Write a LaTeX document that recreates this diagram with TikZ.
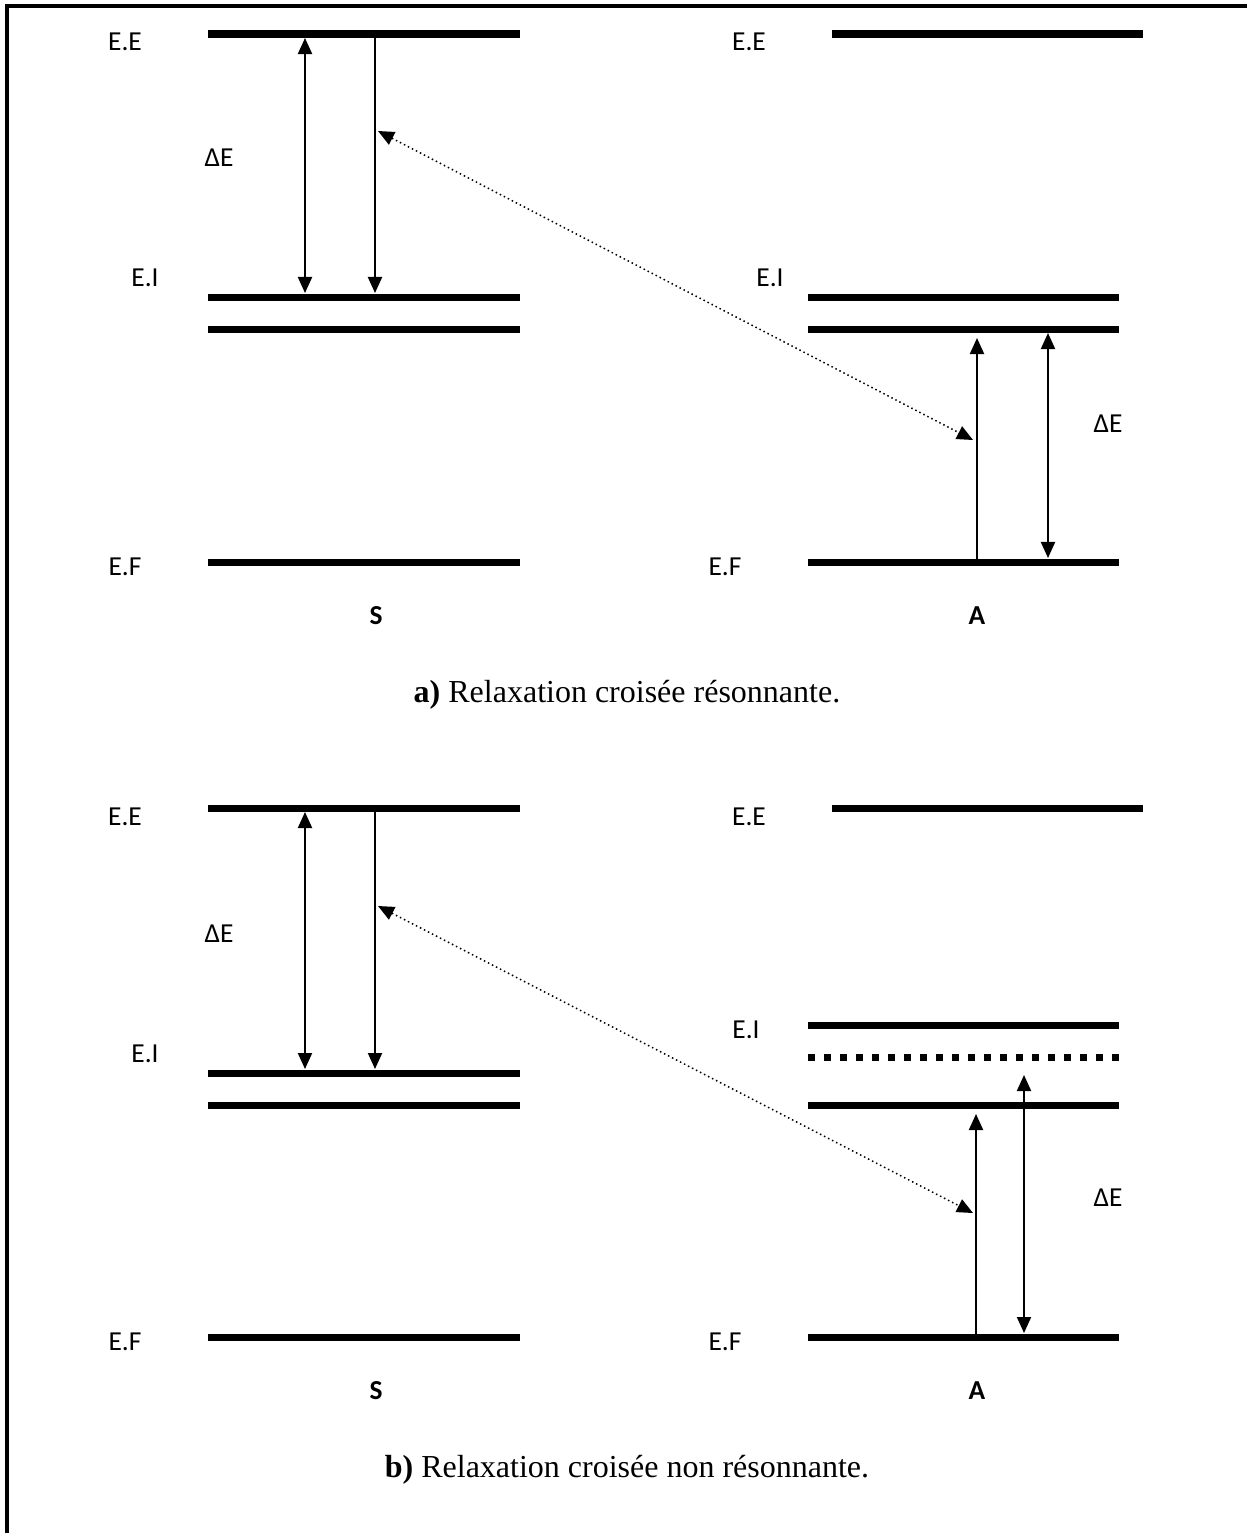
\documentclass[tikz,border=0pt]{standalone}
\usepackage{fontspec}
\setmainfont{Carlito}
\newfontfamily\captionfont{Liberation Serif}
\usetikzlibrary{arrows.meta}

\tikzset{
  level/.style={line width=0.07cm,line cap=butt},
  virtual/.style={level,dash pattern=on 0.07cm off 0.09cm},
  trans/.style={line width=0.02cm},
  transfer/.style={line width=0.015cm,dash pattern=on 0.015cm off 0.03cm},
  lbl/.style={font=\fontsize{7.8}{9}\selectfont,inner sep=0pt},
  ion/.style={lbl,font=\fontsize{7.8}{9}\selectfont\bfseries},
  capline/.style={inner sep=0pt,font=\fontsize{9.1}{11}\captionfont}
}

\begin{document}
\begin{tikzpicture}[x=0.01cm,y=-0.01cm,>={Triangle[length=1.6mm,width=1.4mm]}]
\useasboundingbox (0,0) rectangle (1247,1533);
\draw[line width=0.03cm] (7,1533) -- (7,6) -- (1247,6);

% a) resonant
\draw[level] (208,34) -- (520,34);
\draw[level] (208,297) -- (520,297);
\draw[level] (208,329) -- (520,329);
\draw[level] (208,562) -- (520,562);
\draw[level] (832,34) -- (1143,34);
\draw[level] (808,297) -- (1119,297);
\draw[level] (808,329) -- (1119,329);
\draw[level] (808,562) -- (1119,562);

\node[lbl] (aEEs) at (125,42) {E.E};
\node[lbl] (aEIs) at (145,278) {E.I};
\node[lbl] (aEFs) at (125,567) {E.F};
\node[lbl] (aEEa) at (749,42) {E.E};
\node[lbl] (aEIa) at (770,278) {E.I};
\node[lbl] (aEFa) at (725,567) {E.F};
\node[lbl] (aDEs) at (219,158) {ΔE};
\node[lbl] (aDEa) at (1108,424) {ΔE};
\node[ion] (aS) at (376,616) {S};
\node[ion] (aA) at (977,616) {A};

\coordinate (as1) at (305,38);
\coordinate (as2) at (305,293);
\coordinate (as3) at (375,37);
\coordinate (as4) at (375,293);
\coordinate (as5) at (378,131);
\coordinate (aa1) at (977,559);
\coordinate (aa2) at (977,338);
\coordinate (aa3) at (973,440);
\coordinate (aa4) at (1048,333);
\coordinate (aa5) at (1048,558);
\draw[trans,<->] (as1) -- (as2);
\draw[trans,->] (as3) -- (as4);
\draw[trans,->] (aa1) -- (aa2);
\draw[trans,<->] (aa4) -- (aa5);
\draw[transfer,<->] (as5) -- (aa3);

\node[capline] (capa) at (627,695) {\textbf{a)} Relaxation croisée résonnante.};

% b) non resonant
\draw[level] (208,808) -- (520,808);
\draw[level] (208,1073) -- (520,1073);
\draw[level] (208,1105) -- (520,1105);
\draw[level] (208,1337) -- (520,1337);
\draw[level] (832,808) -- (1143,808);
\draw[level] (808,1025) -- (1119,1025);
\draw[virtual] (808,1057) -- (1119,1057);
\draw[level] (808,1105) -- (1119,1105);
\draw[level] (808,1337) -- (1119,1337);

\node[lbl] (bEEs) at (125,817) {E.E};
\node[lbl] (bEIs) at (145,1054) {E.I};
\node[lbl] (bEFs) at (125,1342) {E.F};
\node[lbl] (bEEa) at (749,817) {E.E};
\node[lbl] (bEIa) at (746,1030) {E.I};
\node[lbl] (bEFa) at (725,1342) {E.F};
\node[lbl] (bDEs) at (219,934) {ΔE};
\node[lbl] (bDEa) at (1108,1198) {ΔE};
\node[ion] (bS) at (376,1391) {S};
\node[ion] (bA) at (977,1391) {A};

\coordinate (bs1) at (305,812);
\coordinate (bs2) at (305,1069);
\coordinate (bs3) at (375,811);
\coordinate (bs4) at (375,1069);
\coordinate (bs5) at (378,906);
\coordinate (ba1) at (976,1334);
\coordinate (ba2) at (976,1114);
\coordinate (ba3) at (973,1213);
\coordinate (ba4) at (1024,1075);
\coordinate (ba5) at (1024,1333);
\draw[trans,<->] (bs1) -- (bs2);
\draw[trans,->] (bs3) -- (bs4);
\draw[trans,->] (ba1) -- (ba2);
\draw[trans,<->] (ba4) -- (ba5);
\draw[transfer,<->] (bs5) -- (ba3);

\node[capline] (capb) at (627,1470) {\textbf{b)} Relaxation croisée non résonnante.};
\end{tikzpicture}
\end{document}
